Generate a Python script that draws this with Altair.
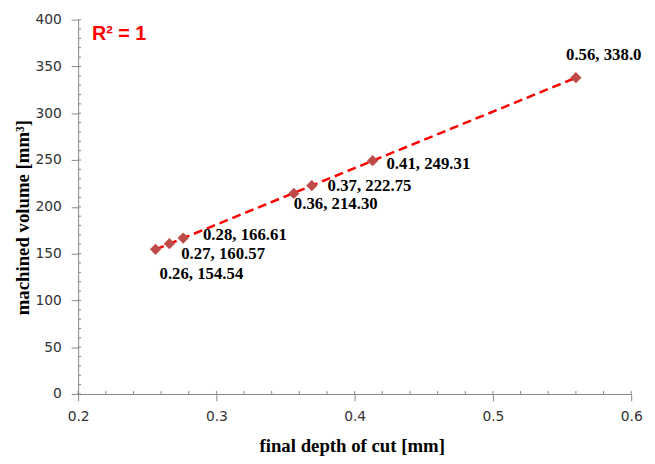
import altair as alt
import pandas as pd

# data
depth = [0.256, 0.266, 0.276, 0.356, 0.369, 0.413, 0.56]
volume = [154.54, 160.57, 166.61, 214.30, 222.75, 249.31, 338.0]
labels = ["0.26, 154.54", "0.27, 160.57", "0.28, 166.61", "0.36, 214.30",
          "0.37, 222.75", "0.41, 249.31", "0.56, 338.0"]
x_ticks = [0.2, 0.3, 0.4, 0.5, 0.6]
y_ticks = [0, 50, 100, 150, 200, 250, 300, 350, 400]
x_minor = [round(0.2 + 0.02 * i, 2) for i in range(21)]
y_minor = list(range(0, 401, 10))

df = pd.DataFrame({"x": depth, "y": volume, "label": labels})

W, H = 560, 379
GRAY = "#868686"
xs = alt.Scale(domain=[0.2, 0.6], nice=False, zero=False)
ys = alt.Scale(domain=[0, 400], nice=False)

x_axis = alt.Axis(values=x_ticks, format=".1f", grid=False, domainColor=GRAY, tickColor=GRAY,
                  tickSize=7, labelPadding=9, labelFont="DejaVu Sans", labelFontSize=14,
                  labelFlush=False, labelOverlap=False,
                  labelColor="#333333", title="final depth of cut [mm]", titleFont="Liberation Serif",
                  titleFontSize=19, titleFontWeight="bold", titleColor="#000000",
                  titleX=277, titleY=52, titleBaseline="middle")
y_axis = alt.Axis(values=y_ticks, grid=False, domainColor=GRAY, tickColor=GRAY,
                  tickSize=7, labelPadding=10, labelFont="DejaVu Sans", labelFontSize=14,
                  labelFlush=False, labelOverlap=False,
                  labelColor="#333333", title="machined volume [mm³]", titleFont="Liberation Serif",
                  titleFontSize=19, titleFontWeight="bold", titleColor="#000000",
                  titleX=-56, titleY=200, titleBaseline="middle", titleAlign="center", titleAngle=-90)

base = alt.Chart(df)

trend = base.transform_regression("x", "y").mark_line(
    color="#FF0000", strokeDash=[9, 5], strokeWidth=2.5
).encode(x=alt.X("x:Q", scale=xs, axis=x_axis), y=alt.Y("y:Q", scale=ys, axis=y_axis))

points = base.mark_point(shape="diamond", filled=True, size=130, color="#BE4B48", opacity=1).encode(
    x=alt.X("x:Q", scale=xs), y=alt.Y("y:Q", scale=ys))

offsets = [(4, 25), (12, 10), (20, -3), (0, 11), (16, 1), (14, 3), (-10, -23)]
texts = []
for i, (dx, dy) in enumerate(offsets):
    texts.append(
        alt.Chart(df.iloc[[i]]).mark_text(align="left", baseline="middle", dx=dx, dy=dy,
                                          font="Liberation Serif", fontSize=17, fontWeight="bold",
                                          color="#000000").encode(
            x=alt.X("x:Q", scale=xs), y=alt.Y("y:Q", scale=ys), text="label:N"))

ytick_df = pd.DataFrame({"v": y_minor})
xtick_df = pd.DataFrame({"v": x_minor})
yminor = alt.Chart(ytick_df).mark_rule(color=GRAY, strokeWidth=1).encode(
    y=alt.Y("v:Q", scale=ys), x=alt.value(0), x2=alt.value(3))
xminor = alt.Chart(xtick_df).mark_rule(color=GRAY, strokeWidth=1).encode(
    x=alt.X("v:Q", scale=xs), y=alt.value(H), y2=alt.value(H - 3))

r2 = alt.Chart(pd.DataFrame({"t": ["R² = 1"]})).mark_text(
    align="left", baseline="middle", font="Liberation Sans", fontSize=20, fontWeight="bold",
    color="#FF0000").encode(x=alt.value(14), y=alt.value(15), text="t:N")

chart = alt.layer(trend, yminor, xminor, points, *texts, r2).properties(
    width=W, height=H,
    autosize=alt.AutoSizeParams(type="none"),
    padding={"left": 71, "top": 9, "right": 16, "bottom": 60},
).configure_view(stroke=None)

chart.save("out.html", embed_options={"renderer": "svg", "actions": False})
